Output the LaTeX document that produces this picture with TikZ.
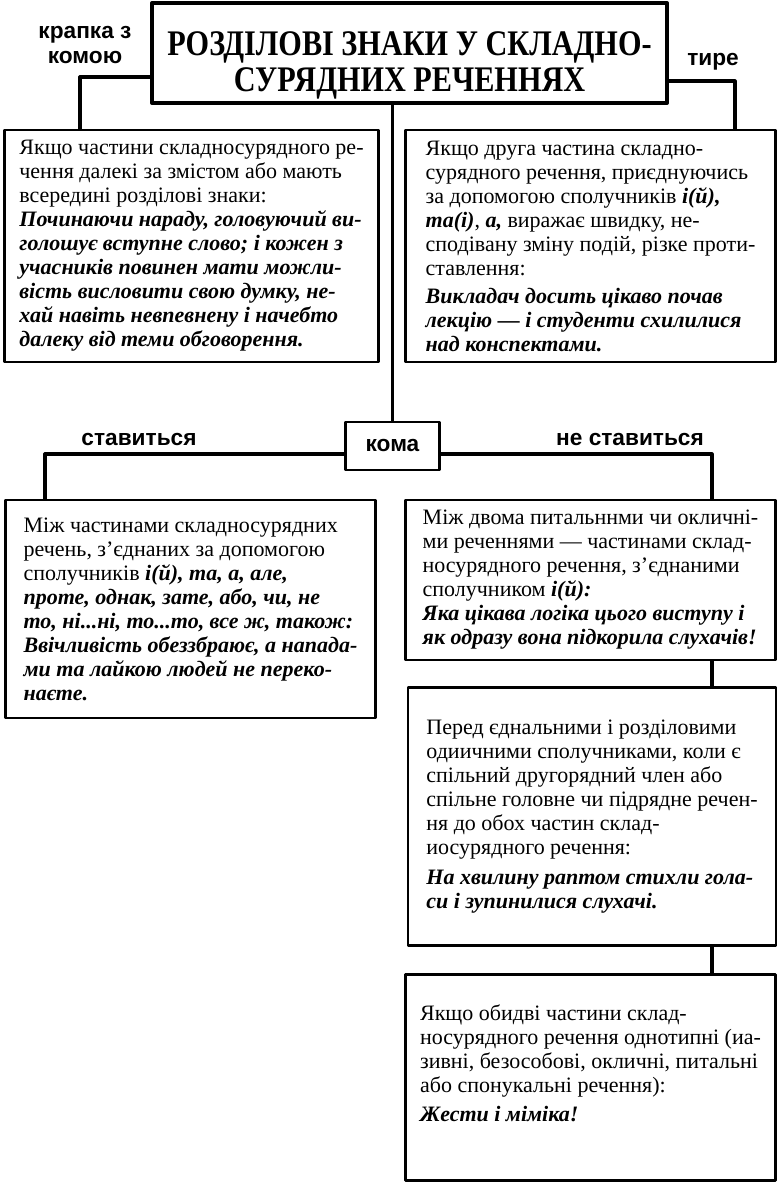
\documentclass[tikz,border=0pt]{standalone}
\usepackage{fontspec}
\setmainfont{Liberation Serif}
\newfontfamily\labfont{Liberation Sans}
\newfontfamily\ttlfont{Liberation Serif}[FakeStretch=0.84]
\newcommand{\ex}[1]{\textbf{\textit{#1}}}

\begin{document}
\begin{tikzpicture}[x=0.75pt,y=-0.75pt,line join=round,
box/.style={draw,line width=2.2pt,align=left,inner sep=0pt,font=\fontsize{16.5}{18}\selectfont},
link/.style={line width=2.4pt},
lab/.style={font=\labfont\bfseries\fontsize{17}{19}\selectfont,align=center}]
\fill[white] (0,0) rectangle (779,1188);
\useasboundingbox (0,0) rectangle (779,1188);
\path
(80,77) coordinate (kl)
(735,81) coordinate (kr)
(45,454) coordinate (st)
(712,454) coordinate (nst)
;
\node[box,line width=3pt,align=center,minimum width=386pt,minimum height=75pt,
  font=\ttlfont\bfseries\fontsize{27}{26}\selectfont] (title) at (409.5,53)
  {\rule{0pt}{36pt}РОЗДІЛОВІ ЗНАКИ У СКЛАДНО-\\[1pt]СУРЯДНИХ РЕЧЕННЯХ};
\node[box,minimum width=280pt,minimum height=174pt] (lb1) at (191.5,246)
  {Якщо частини складносурядного ре-\\
   чення далекі за змістом або мають\\
   всередині розділові знаки:\\
   \ex{Починаючи нараду, головуючий ви-}\\
   \ex{голошує вступне слово; і кожен з}\\
   \ex{учасників повинен мати можли-}\\
   \ex{вість висловити свою думку, не-}\\
   \ex{хай навіть невпевнену і начебто}\\
   \ex{далеку від теми обговорення.}};
\node[box,minimum width=278pt,minimum height=174pt] (rb1) at (590.5,246)
  {Якщо друга частина складно-\\
   сурядного речення, приєднуючись\\
   за допомогою сполучників \ex{і(й),}\\
   \ex{та(і)}, \ex{а,} виражає швидку, не-\\
   сподівану зміну подій, різке проти-\\
   ставлення:\\[3pt]
   \ex{Викладач досить цікаво почав}\\
   \ex{лекцію — і студенти схилилися}\\
   \ex{над конспектами.}};
\node[box,align=center,minimum width=71pt,minimum height=36pt,
  font=\labfont\bfseries\fontsize{17}{19}\selectfont] (koma) at (392.5,446) {кома};
\node[box,minimum width=278pt,minimum height=163.5pt] (lb2) at (190.5,609)
  {Між частинами складносурядних\\
   речень, з’єднаних за допомогою\\
   сполучників \ex{і(й), та, а, але,}\\
   \ex{проте, однак, зате, або, чи, не}\\
   \ex{то, ні...ні, то...то, все ж, також:}\\
   \ex{Ввічливість обеззбраює, а напада-}\\
   \ex{ми та лайкою людей не переко-}\\
   \ex{наєте.}};
\node[box,minimum width=278pt,minimum height=120pt] (rb2) at (590.5,580)
  {Між двома питальннми чи окличні-\\
   ми реченнями — частинами склад-\\
   носурядного речення, з’єднаними\\
   сполучником \ex{і(й):}\\
   \ex{Яка цікава логіка цього виступу і}\\
   \ex{як одразу вона підкорила слухачів!}};
\node[box,minimum width=276pt,minimum height=193pt] (rb3) at (592,816.5)
  {Перед єднальними і розділовими\\
   одиичними сполучниками, коли є\\
   спільний другорядний член або\\
   спільне головне чи підрядне речен-\\
   ня до обох частин склад-\\
   иосурядного речення:\\[4pt]
   \ex{На хвилину раптом стихли гола-}\\
   \ex{си і зупинилися слухачі.}};
\node[box,minimum width=278pt,minimum height=154pt] (rb4) at (590.5,1077.5)
  {Якщо обидві частини склад-\\
   носурядного речення однотипні (иа-\\
   зивні, безособові, окличні, питальні\\
   або спонукальні речення):\\[4pt]
   \ex{Жести і міміка!}\\[4pt]\mbox{}};
\node[lab] (kk) at (85,45) {крапка з\\комою};
\node[lab] (tyre) at (713,62) {тире};
\node[lab] (stav) at (139,440) {ставиться};
\node[lab] (nestav) at (630,440) {не ставиться};
\draw[link]
(title.west |- kl) -| (lb1.north -| kl)
(title.east |- kr) -| (rb1.north -| kr)
(koma.north |- title.south) -- (koma.north)
(koma.west |- st) -| (lb2.north -| st)
(koma.east |- nst) -| (rb2.north -| nst)
(rb2.south -| nst) -- (rb3.north -| nst)
(rb3.south -| nst) -- (rb4.north -| nst)
;
\end{tikzpicture}
\end{document}
